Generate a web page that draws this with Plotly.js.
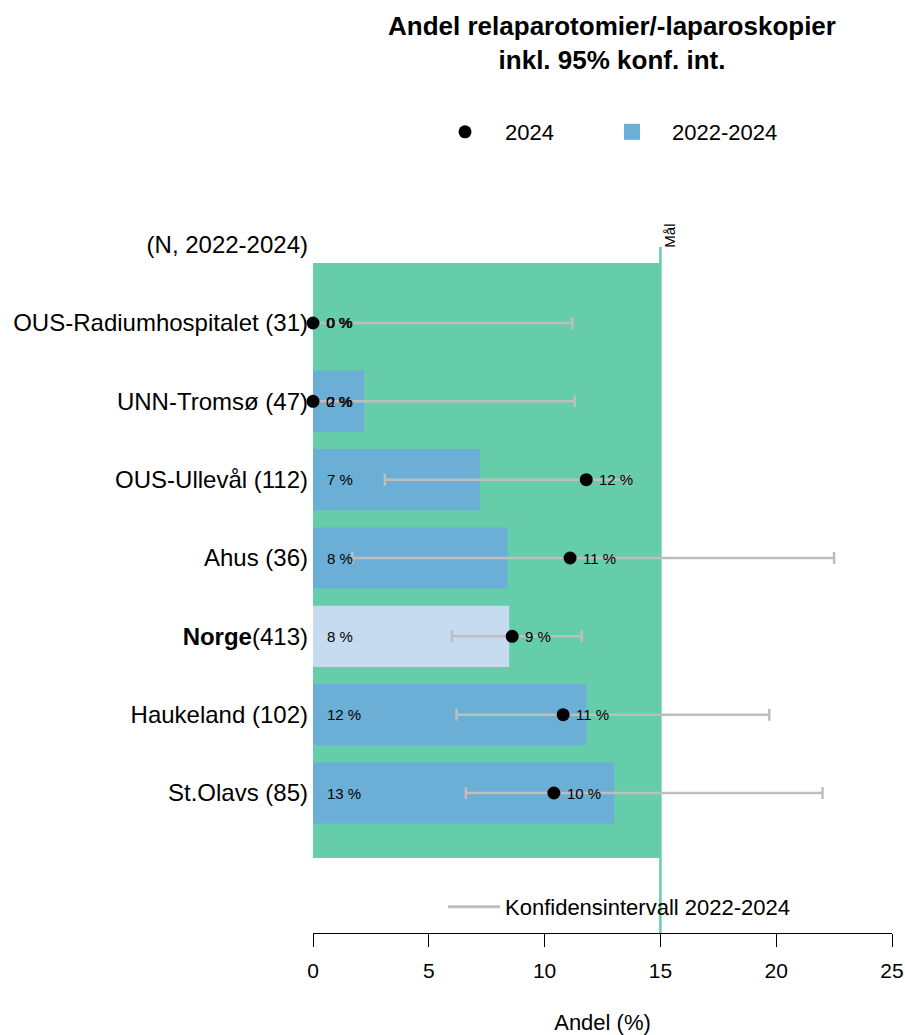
<!DOCTYPE html>
<html><head><meta charset="utf-8">
<script src="https://cdn.plot.ly/plotly-3.0.1.min.js"></script>
<style>html,body{margin:0;padding:0;background:#fff}</style>
</head><body><div id="chart" style="width:905px;height:1035px"></div>
<script>
// ---- data ----
const hospitals = ["OUS-Radiumhospitalet", "UNN-Tromsø", "OUS-Ullevål", "Ahus", "Norge", "Haukeland", "St.Olavs"];
const nPatients = [31, 47, 112, 36, 413, 102, 85];
const share2022_2024 = [0, 2.2, 7.2, 8.4, 8.47, 11.8, 13.0];
const share2024 = [0, 0, 11.8, 11.1, 8.6, 10.8, 10.4];
const ciLow = [0, 0, 3.1, 1.7, 6.0, 6.2, 6.6];
const ciHigh = [11.2, 11.3, 13.6, 22.5, 11.6, 19.7, 22.0];
const targetValue = 15;
const targetLabel = "Mål";
const headerLabel = "(N, 2022-2024)";
const xTicks = [0, 5, 10, 15, 20, 25];
const nationalName = "Norge";

// ---- derived ----
const FONT = "Liberation Sans, Arial, Helvetica, sans-serif";
const nRows = hospitals.length;
const yPos = hospitals.map((_, i) => nRows - i);
const headerPos = nRows + 1;
const tickText = hospitals.map((h, i) => h === nationalName ? `<b>${h}</b>(${nPatients[i]})` : `${h} (${nPatients[i]})`);
const barColors = hospitals.map(h => h === nationalName ? "#C6DBEF" : "#6BAED6");

const traces = [
  {
    type: "bar", orientation: "h",
    x: share2022_2024, y: yPos, width: 0.78,
    marker: {color: barColors},
    showlegend: false, hoverinfo: "skip"
  },
  {
    type: "scatter", mode: "markers",
    x: share2022_2024, y: yPos,
    marker: {size: 1, opacity: 0},
    error_x: {
      type: "data", symmetric: false,
      array: ciHigh.map((h, i) => h - share2022_2024[i]),
      arrayminus: ciLow.map((l, i) => share2022_2024[i] - l),
      color: "#BEBEBE", thickness: 2.5, width: 6
    },
    showlegend: false, hoverinfo: "skip"
  },
  {
    type: "scatter", mode: "markers", name: "2024",
    x: share2024, y: yPos, cliponaxis: false,
    marker: {color: "black", size: 13, symbol: "circle"},
    legend: "legend"
  },
  {
    type: "scatter", mode: "markers", name: "2022-2024",
    x: [null], y: [null],
    marker: {color: "#6BAED6", size: 16, symbol: "square"},
    legend: "legend3"
  },
  {
    type: "scatter", mode: "lines", name: "Konfidensintervall 2022-2024",
    x: [null], y: [null],
    line: {color: "#BEBEBE", width: 3},
    legend: "legend2"
  }
];

const annotations = [];
share2022_2024.forEach((v, i) => {
  annotations.push({
    x: 0, y: yPos[i], xref: "x", yref: "y", text: `${Math.round(v)} %`,
    xanchor: "left", yanchor: "middle", xshift: 12, showarrow: false,
    font: {size: 15, color: "black", family: FONT}
  });
});
share2024.forEach((v, i) => {
  annotations.push({
    x: v, y: yPos[i], xref: "x", yref: "y", text: `${Math.round(v)} %`,
    xanchor: "left", yanchor: "middle", xshift: 11, showarrow: false,
    font: {size: 15, color: "black", family: FONT}
  });
});
annotations.push({
  x: targetValue, y: 8.12, xref: "x", yref: "y", text: targetLabel,
  textangle: -90, xanchor: "center", yanchor: "middle", xshift: 9, showarrow: false,
  font: {size: 15, color: "black", family: FONT}
});

const legendCommon = {
  orientation: "h", font: {size: 22, color: "black", family: FONT},
  itemwidth: 70, bgcolor: "rgba(0,0,0,0)", borderwidth: 0
};

const layout = {
  width: 905, height: 1035,
  paper_bgcolor: "white", plot_bgcolor: "white",
  font: {family: FONT, color: "black"},
  margin: {l: 313, r: 13, t: 200, b: 102, pad: 0, autoexpand: false},
  title: {
    text: "<b>Andel relaparotomier/-laparoskopier<br>inkl. 95% konf. int.</b>",
    font: {size: 26, color: "black", family: FONT},
    xref: "container", x: 612 / 905, xanchor: "center",
    yref: "container", y: 1 - 35 / 1035, yanchor: "top"
  },
  xaxis: {
    range: [0, 25], tickvals: xTicks, ticktext: xTicks.map(String),
    ticks: "outside", ticklen: 13, tickcolor: "black", tickwidth: 1,
    showline: true, linecolor: "black", linewidth: 1,
    showgrid: false, zeroline: false, automargin: false,
    ticklabelstandoff: 6,
    tickfont: {size: 21, color: "black", family: FONT},
    title: {text: "Andel (%)", font: {size: 22, color: "black", family: FONT}, standoff: 34}
  },
  yaxis: {
    range: [-0.787, 8.570],
    tickvals: [...yPos, headerPos], ticktext: [...tickText, headerLabel],
    ticks: "", showline: false, showgrid: false, zeroline: false, automargin: false,
    ticklabelstandoff: 4,
    tickfont: {size: 24, color: "black", family: FONT}
  },
  barmode: "overlay",
  showlegend: true,
  legend: Object.assign({}, legendCommon, {
    xref: "container", yref: "container",
    x: 425 / 905, xanchor: "left", y: 1 - 132 / 1035, yanchor: "middle"
  }),
  legend3: Object.assign({}, legendCommon, {
    xref: "container", yref: "container",
    x: 592 / 905, xanchor: "left", y: 1 - 132 / 1035, yanchor: "middle"
  }),
  legend2: Object.assign({}, legendCommon, {
    itemwidth: 52,
    xref: "paper", yref: "paper",
    x: (443 - 313) / 579, xanchor: "left", y: (933 - 907) / 733, yanchor: "middle"
  }),
  shapes: [
    {type: "rect", xref: "x", yref: "y", x0: 0, x1: targetValue, y0: 0.17, y1: 7.766,
     fillcolor: "#66CDAA", line: {width: 0}, layer: "below"},
    {type: "line", xref: "x", yref: "y", x0: targetValue, x1: targetValue, y0: -0.787, y1: 7.97,
     line: {color: "#66CDAA", width: 2.5}, layer: "below"}
  ],
  annotations: annotations
};

Plotly.newPlot("chart", traces, layout, {displayModeBar: false, staticPlot: true});
</script>
</body></html>
